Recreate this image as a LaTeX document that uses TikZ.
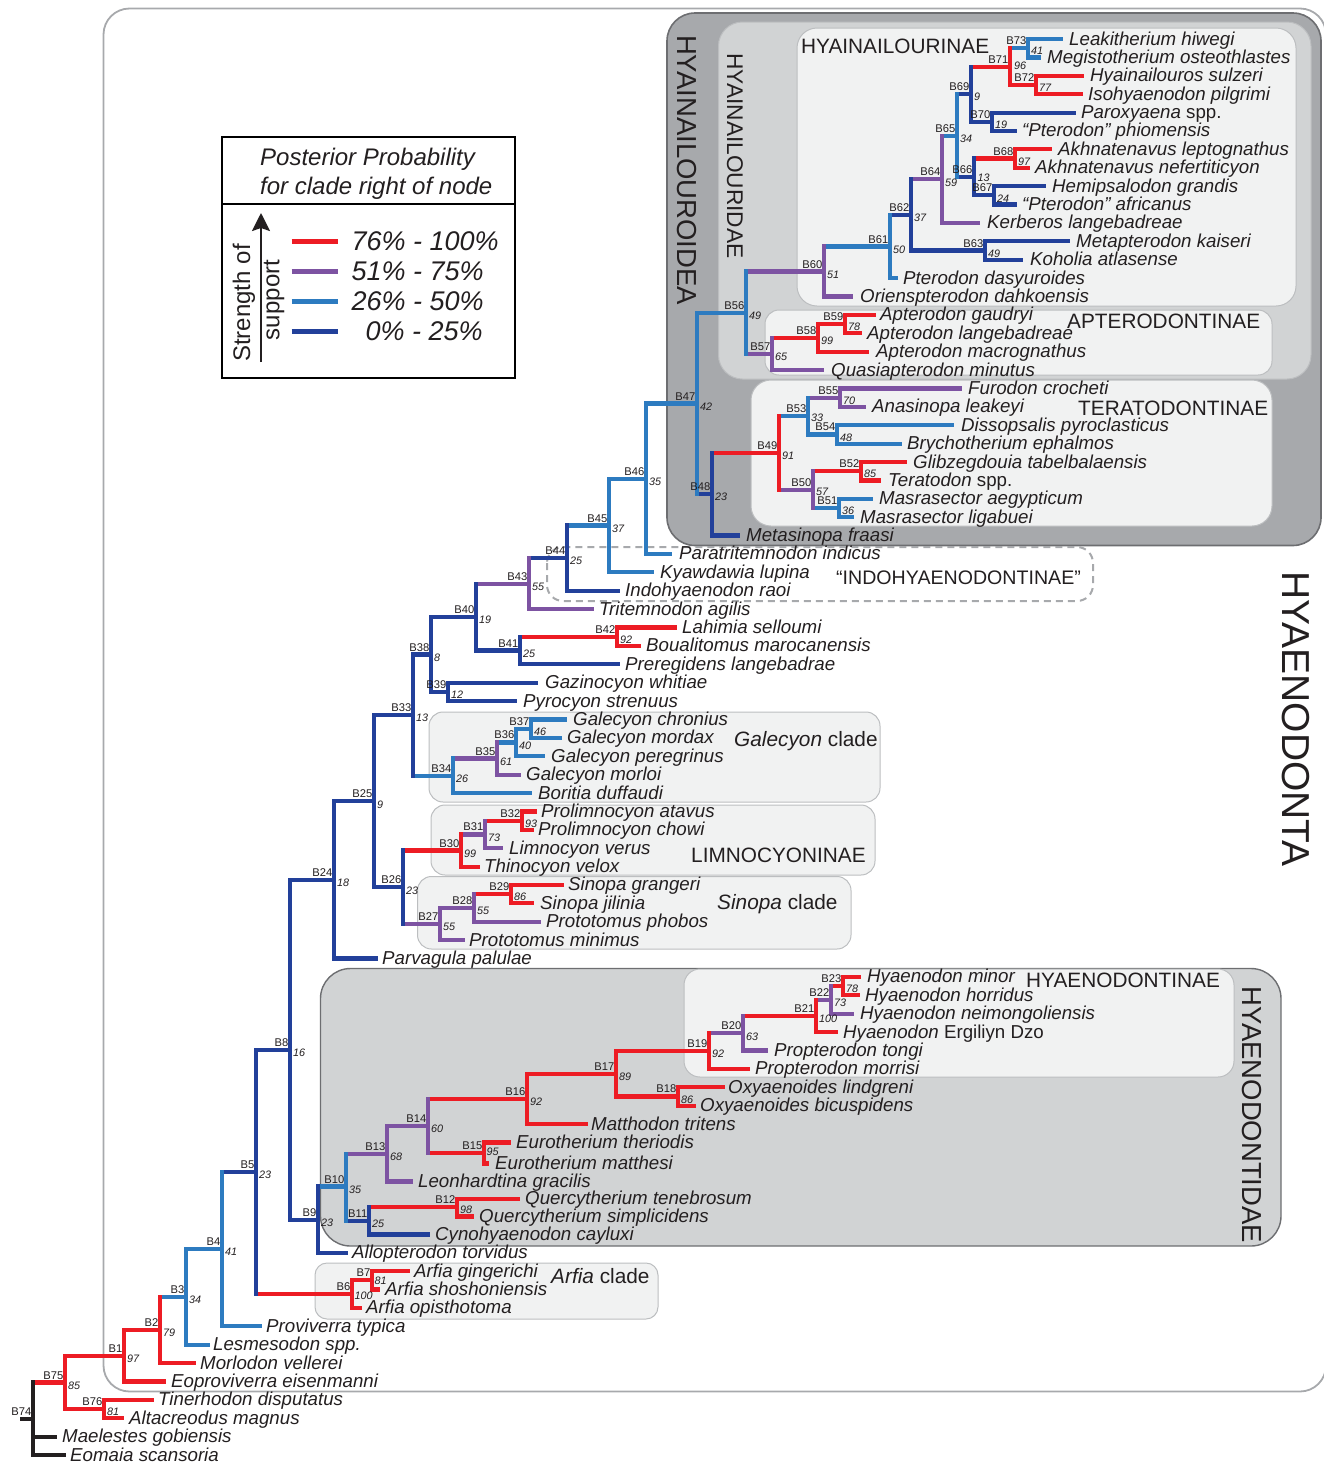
\documentclass[tikz,border=0pt]{standalone}
\usepackage{fontspec}
\setmainfont{Liberation Sans}
\usetikzlibrary{arrows.meta}
\definecolor{cR}{HTML}{ED1C24}
\definecolor{cP}{HTML}{7D53A2}
\definecolor{cL}{HTML}{2D7BC0}
\definecolor{cD}{HTML}{22409A}
\definecolor{cK}{HTML}{231F20}
\definecolor{txt}{HTML}{231F20}
\definecolor{gDark}{HTML}{A7A9AC}
\definecolor{gMid}{HTML}{D1D3D4}
\definecolor{gLight}{HTML}{F1F2F2}
\definecolor{gEdge}{HTML}{BCBEC0}
\definecolor{gLine}{HTML}{6D6E71}
\newcommand\St[3]{\draw[br,#3] (#2 |- #1) -- (#1);}
\newcommand\Br[4]{\draw[br,#4,line cap=rect] (#1 |- #2) -- (#1 |- #3);}
\newcommand\Lf[7]{\coordinate (t#1) at (#2,#4); \draw[br,#6] (#5 |- t#1) -- (t#1); \node[lab] (n#1) at (#3,#4) {#7};}
\newcommand\Lb[2]{\node[bl] (b#1) at ([shift={(-1.5,-3.5)}]#1) {#1}; \node[sv] (s#1) at ([shift={(3,3)}]#1) {#2};}
\newcommand\Lc[4]{\node[bl] (b#1) at ([shift={(-1.5,-3.5)}]#1) {#1}; \node[sv] (s#1) at ([shift={(#3,#4)}]#1) {#2};}
\begin{document}
\begin{tikzpicture}[x=1pt,y=-1pt,
  br/.style={line width=4.2pt},
  lab/.style={anchor=base west, inner sep=0pt, yshift=-6pt, text=txt, font=\fontsize{18.7}{20}\selectfont\itshape},
  bl/.style={anchor=base east, inner sep=0pt, text=txt, font=\fontsize{11.2}{12}\selectfont},
  sv/.style={anchor=west, inner sep=0pt, text=txt, font=\fontsize{10.8}{12}\selectfont\itshape},
  grp/.style={anchor=base west, inner sep=0pt, text=txt, font=\fontsize{20.8}{22}\selectfont},
  vgrp/.style={inner sep=0pt, rotate=-90, text=txt},
  lbox/.style={draw=gEdge, fill=gLight, line width=1pt},
  legtxt/.style={anchor=west, inner sep=0pt, text=txt, font=\fontsize{27}{29}\selectfont\itshape}]
\useasboundingbox (0,0) rectangle (1324,1465);
\clip (0,0) rectangle (1324,1465);
% ---------- boxes ----------
\draw[draw=gDark, line width=1.8pt, rounded corners=26pt] (103.5,8.5) rectangle (1326,1391.5);
\draw[draw=gLine, fill=gDark, line width=1.6pt, rounded corners=28pt] (667,13) rectangle (1321,545.5);
\draw[draw=gEdge, fill=gMid, line width=1pt, rounded corners=24pt] (718.5,22) rectangle (1311,379);
\draw[lbox, rounded corners=20pt] (797,28) rectangle (1296,306);
\draw[lbox, rounded corners=14pt] (765,310) rectangle (1272,375);
\draw[lbox, rounded corners=20pt] (751,380) rectangle (1272,526);
\draw[draw=gDark, line width=2pt, dash pattern=on 7pt off 5pt, rounded corners=16pt] (547,547) rectangle (1093,601);
\draw[lbox, rounded corners=14pt] (429,712) rectangle (880,802);
\draw[lbox, rounded corners=14pt] (431,805) rectangle (875,875);
\draw[lbox, rounded corners=14pt] (417.5,876.5) rectangle (851,949);
\draw[draw=gLine, fill=gMid, line width=1.4pt, rounded corners=30pt] (320.5,968.5) rectangle (1281,1246);
\draw[lbox, rounded corners=16pt] (684,969) rectangle (1234,1077);
\draw[lbox, rounded corners=12pt] (315,1263) rectangle (658,1319);
% ---------- group labels ----------
\node[grp] (gHyn) at (801,53.3) {HYAINAILOURINAE};
\node[grp] (gApt) at (1067,328.3) {APTERODONTINAE};
\node[grp] (gTer) at (1078,415.3) {TERATODONTINAE};
\node[grp, font=\fontsize{19.6}{21}\selectfont] (gInd) at (836,584) {“INDOHYAENODONTINAE”};
\node[grp] (gGal) at (734,746.3) {\textit{Galecyon} clade};
\node[grp] (gLim) at (691,862.3) {LIMNOCYONINAE};
\node[grp] (gSin) at (717,909) {\textit{Sinopa} clade};
\node[grp] (gHyd) at (1026,987.3) {HYAENODONTINAE};
\node[grp] (gArf) at (551,1283.3) {\textit{Arfia} clade};
\node[vgrp, font=\fontsize{27.5}{29}\selectfont] (vA) at (686.5,170) {HYAINAILOUROIDEA};
\node[vgrp, font=\fontsize{22.7}{24}\selectfont] (vB) at (735,156) {HYAINAILOURIDAE};
\node[vgrp, font=\fontsize{39}{41}\selectfont] (vC) at (1296,719) {HYAENODONTA};
\node[vgrp, font=\fontsize{27.5}{29}\selectfont] (vD) at (1252,1115) {HYAENODONTIDAE};
% ---------- legend ----------
\draw[line width=2pt, fill=white] (222,137) rectangle (515,378);
\coordinate (dvL) at (222,203.5); \coordinate (dvR) at (515,203.5);
\draw[line width=2pt] (dvL) -- (dvR);
\node[anchor=base west, inner sep=0pt, text=txt, font=\fontsize{24}{26}\selectfont\itshape] (lt1) at (260,165.5) {Posterior Probability};
\node[anchor=base west, inner sep=0pt, text=txt, font=\fontsize{24}{26}\selectfont\itshape] (lt2) at (260,194.5) {for clade right of node};
\coordinate (arA) at (261,362); \coordinate (arB) at (261,213);
\draw[line width=2.4pt, txt, -{Stealth[length=18pt,width=18pt,inset=3pt]}] (arA) -- (arB);
\node[inner sep=0pt, rotate=90, text=txt, font=\fontsize{24}{26}\selectfont] (ls1) at (244,303) {Strength of};
\node[inner sep=0pt, rotate=90, text=txt, font=\fontsize{24}{26}\selectfont] (ls2) at (274,300) {support};
\coordinate (k1a) at (291.7,241.5); \coordinate (k1b) at (338,241.5);
\coordinate (k2a) at (291.7,271.5); \coordinate (k2b) at (338,271.5);
\coordinate (k3a) at (291.7,301.5); \coordinate (k3b) at (338,301.5);
\coordinate (k4a) at (291.7,331.5); \coordinate (k4b) at (338,331.5);
\draw[line width=4.5pt, cR] (k1a) -- (k1b);
\draw[line width=4.5pt, cP] (k2a) -- (k2b);
\draw[line width=4.5pt, cL] (k3a) -- (k3b);
\draw[line width=4.5pt, cD] (k4a) -- (k4b);
\node[legtxt] (kt1) at (351.5,241.5) {76\% - 100\%};
\node[legtxt] (kt2) at (351.5,271.5) {51\% - 75\%};
\node[legtxt] (kt3) at (351.5,301.5) {26\% - 50\%};
\node[legtxt] (kt4) at (365.5,331.5) {0\% - 25\%};
% ---------- internal nodes ----------
\coordinate (B74) at (33,1418.8);
\coordinate (B75) at (65,1382.5);
\coordinate (B76) at (104,1409.1);
\coordinate (B1) at (124,1355.8);
\coordinate (B2) at (160,1330.1);
\coordinate (B3) at (186,1297.0);
\coordinate (B4) at (222,1249.2);
\coordinate (B5) at (256,1172.0);
\coordinate (B6) at (352,1294.1);
\coordinate (B7) at (372,1280.3);
\coordinate (B8) at (290,1049.8);
\coordinate (B9) at (318,1219.6);
\coordinate (B10) at (346,1186.5);
\coordinate (B11) at (369,1220.6);
\coordinate (B12) at (457,1206.8);
\coordinate (B13) at (387,1153.7);
\coordinate (B14) at (428,1126.0);
\coordinate (B15) at (484,1153.0);
\coordinate (B16) at (527,1098.9);
\coordinate (B17) at (616,1073.8);
\coordinate (B18) at (678,1096.4);
\coordinate (B19) at (709,1051.1);
\coordinate (B20) at (743,1033.3);
\coordinate (B21) at (816,1016.0);
\coordinate (B22) at (831,999.9);
\coordinate (B23) at (843,986.1);
\coordinate (B24) at (334,879.9);
\coordinate (B25) at (374,801.3);
\coordinate (B26) at (403,887.3);
\coordinate (B27) at (440,924.0);
\coordinate (B28) at (474,907.9);
\coordinate (B29) at (511,894.1);
\coordinate (B30) at (461,850.5);
\coordinate (B31) at (485,834.4);
\coordinate (B32) at (522,820.6);
\coordinate (B33) at (413,715.2);
\coordinate (B34) at (453,775.8);
\coordinate (B35) at (497,758.5);
\coordinate (B36) at (516,742.4);
\coordinate (B37) at (531,728.6);
\coordinate (B38) at (431,654.5);
\coordinate (B39) at (448,691.9);
\coordinate (B40) at (476,617.1);
\coordinate (B41) at (520,650.5);
\coordinate (B42) at (617,636.7);
\coordinate (B43) at (529,583.6);
\coordinate (B44) at (567,558.1);
\coordinate (B45) at (609,525.5);
\coordinate (B46) at (646,478.7);
\coordinate (B47) at (697,403.5);
\coordinate (B48) at (712,494.2);
\coordinate (B49) at (779,452.8);
\coordinate (B50) at (813,489.6);
\coordinate (B51) at (839,508.0);
\coordinate (B52) at (861,471.2);
\coordinate (B53) at (808,416.0);
\coordinate (B54) at (837,434.4);
\coordinate (B55) at (840,397.6);
\coordinate (B56) at (746,312.8);
\coordinate (B57) at (772,354.0);
\coordinate (B58) at (818,337.9);
\coordinate (B59) at (845,324.1);
\coordinate (B60) at (824,271.5);
\coordinate (B61) at (890,246.5);
\coordinate (B62) at (911,214.9);
\coordinate (B63) at (985,250.5);
\coordinate (B64) at (942,179.3);
\coordinate (B65) at (957,135.6);
\coordinate (B66) at (974,176.9);
\coordinate (B67) at (994,195.3);
\coordinate (B68) at (1015,158.5);
\coordinate (B69) at (971,94.2);
\coordinate (B70) at (992,121.8);
\coordinate (B71) at (1010,66.6);
\coordinate (B72) at (1036,85.0);
\coordinate (B73) at (1028,48.2);
\coordinate (root) at (20,1418.8);
% ---------- stems ----------
\draw[br,cK] (root) -- (B74);
\St{B75}{B74}{cR} \St{B76}{B75}{cR} \St{B1}{B75}{cR} \St{B2}{B1}{cR}
\St{B3}{B2}{cL} \St{B4}{B3}{cL} \St{B5}{B4}{cD} \St{B6}{B5}{cR}
\St{B7}{B6}{cR} \St{B8}{B5}{cD} \St{B9}{B8}{cD} \St{B10}{B9}{cL}
\St{B11}{B10}{cD} \St{B12}{B11}{cR} \St{B13}{B10}{cP} \St{B14}{B13}{cP}
\St{B15}{B14}{cR} \St{B16}{B14}{cR} \St{B17}{B16}{cR} \St{B18}{B17}{cR}
\St{B19}{B17}{cR} \St{B20}{B19}{cP} \St{B21}{B20}{cR} \St{B22}{B21}{cP}
\St{B23}{B22}{cR} \St{B24}{B8}{cD} \St{B25}{B24}{cD} \St{B26}{B25}{cD}
\St{B27}{B26}{cP} \St{B28}{B27}{cP} \St{B29}{B28}{cR} \St{B30}{B26}{cR}
\St{B31}{B30}{cP} \St{B32}{B31}{cR} \St{B33}{B25}{cD} \St{B34}{B33}{cL}
\St{B35}{B34}{cP} \St{B36}{B35}{cL} \St{B37}{B36}{cL} \St{B38}{B33}{cD}
\St{B39}{B38}{cD} \St{B40}{B38}{cD} \St{B41}{B40}{cD} \St{B42}{B41}{cR}
\St{B43}{B40}{cP} \St{B44}{B43}{cD} \St{B45}{B44}{cL} \St{B46}{B45}{cL}
\St{B47}{B46}{cL} \St{B48}{B47}{cD} \St{B49}{B48}{cR} \St{B50}{B49}{cP}
\St{B51}{B50}{cL} \St{B52}{B50}{cR} \St{B53}{B49}{cL} \St{B54}{B53}{cL}
\St{B55}{B53}{cP} \St{B56}{B47}{cL} \St{B57}{B56}{cP} \St{B58}{B57}{cR}
\St{B59}{B58}{cR} \St{B60}{B56}{cP} \St{B61}{B60}{cL} \St{B62}{B61}{cD}
\St{B63}{B62}{cD} \St{B64}{B62}{cP} \St{B65}{B64}{cL} \St{B66}{B65}{cD}
\St{B67}{B66}{cD} \St{B68}{B66}{cR} \St{B69}{B65}{cD} \St{B70}{B69}{cD}
\St{B71}{B69}{cR} \St{B72}{B71}{cR} \St{B73}{B71}{cL}
% ---------- leaves ----------
\Lf{1}{1063}{1069}{39.0}{B73}{cL}{Leakitherium hiwegi}
\Lf{2}{1041}{1047}{57.4}{B73}{cL}{Megistotherium osteothlastes}
\Lf{3}{1084}{1090}{75.8}{B72}{cR}{Hyainailouros sulzeri}
\Lf{4}{1083}{1088}{94.2}{B72}{cR}{Isohyaenodon pilgrimi}
\Lf{5}{1076}{1081}{112.6}{B70}{cD}{Paroxyaena {\upshape spp.}}
\Lf{6}{1017}{1022}{130.9}{B70}{cD}{“Pterodon” phiomensis}
\Lf{7}{1052}{1058}{149.3}{B68}{cR}{Akhnatenavus leptognathus}
\Lf{8}{1030}{1035}{167.7}{B68}{cR}{Akhnatenavus nefertiticyon}
\Lf{9}{1046}{1052}{186.1}{B67}{cD}{Hemipsalodon grandis}
\Lf{10}{1017}{1022}{204.5}{B67}{cD}{“Pterodon” africanus}
\Lf{11}{980}{987}{222.9}{B64}{cP}{Kerberos langebadreae}
\Lf{12}{1070}{1076}{241.3}{B63}{cD}{Metapterodon kaiseri}
\Lf{13}{1023}{1030}{259.7}{B63}{cD}{Koholia atlasense}
\Lf{14}{898}{903}{278.1}{B61}{cL}{Pterodon dasyuroides}
\Lf{15}{853}{860}{296.5}{B60}{cP}{Orienspterodon dahkoensis}
\Lf{16}{876}{880}{314.9}{B59}{cR}{Apterodon gaudryi}
\Lf{17}{862}{867}{333.2}{B59}{cR}{Apterodon langebadreae}
\Lf{18}{869}{876}{351.6}{B58}{cR}{Apterodon macrognathus}
\Lf{19}{824}{831}{370.0}{B57}{cP}{Quasiapterodon minutus}
\Lf{20}{962}{968}{388.4}{B55}{cP}{Furodon crocheti}
\Lf{21}{866}{872}{406.8}{B55}{cP}{Anasinopa leakeyi}
\Lf{22}{954}{961}{425.2}{B54}{cL}{Dissopsalis pyroclasticus}
\Lf{23}{902}{907}{443.6}{B54}{cL}{Brychotherium ephalmos}
\Lf{24}{907}{913}{462.0}{B52}{cR}{Glibzegdouia tabelbalaensis}
\Lf{25}{881}{888}{480.4}{B52}{cR}{Teratodon {\upshape spp.}}
\Lf{26}{873}{879}{498.8}{B51}{cL}{Masrasector aegypticum}
\Lf{27}{854}{860}{517.1}{B51}{cL}{Masrasector ligabuei}
\Lf{28}{740}{746}{535.5}{B48}{cD}{Metasinopa fraasi}
\Lf{29}{672}{679}{553.9}{B46}{cL}{Paratritemnodon indicus}
\Lf{30}{654}{660}{572.3}{B45}{cL}{Kyawdawia lupina}
\Lf{31}{620}{625}{590.7}{B44}{cD}{Indohyaenodon raoi}
\Lf{32}{594}{599}{609.1}{B43}{cP}{Tritemnodon agilis}
\Lf{33}{677}{682}{627.5}{B42}{cR}{Lahimia selloumi}
\Lf{34}{641}{646}{645.9}{B42}{cR}{Boualitomus marocanensis}
\Lf{35}{620}{625}{664.3}{B41}{cD}{Preregidens langebadrae}
\Lf{36}{538}{545}{682.7}{B39}{cD}{Gazinocyon whitiae}
\Lf{37}{517}{523}{701.0}{B39}{cD}{Pyrocyon strenuus}
\Lf{38}{567}{573}{719.4}{B37}{cL}{Galecyon chronius}
\Lf{39}{562}{567}{737.8}{B37}{cL}{Galecyon mordax}
\Lf{40}{545}{551}{756.2}{B36}{cL}{Galecyon peregrinus}
\Lf{41}{521}{526}{774.6}{B35}{cP}{Galecyon morloi}
\Lf{42}{532}{538}{793.0}{B34}{cL}{Boritia duffaudi}
\Lf{43}{537}{541}{811.4}{B32}{cR}{Prolimnocyon atavus}
\Lf{44}{534}{538}{829.8}{B32}{cR}{Prolimnocyon chowi}
\Lf{45}{503}{509}{848.2}{B31}{cP}{Limnocyon verus}
\Lf{46}{480}{484}{866.6}{B30}{cR}{Thinocyon velox}
\Lf{47}{564}{568}{884.9}{B29}{cR}{Sinopa grangeri}
\Lf{48}{534}{540}{903.3}{B29}{cR}{Sinopa jilinia}
\Lf{49}{541}{546}{921.7}{B28}{cP}{Prototomus phobos}
\Lf{50}{465}{469}{940.1}{B27}{cP}{Prototomus minimus}
\Lf{51}{378}{382}{958.5}{B24}{cD}{Parvagula palulae}
\Lf{52}{861}{867}{976.9}{B23}{cR}{Hyaenodon minor}
\Lf{53}{860}{865}{995.3}{B23}{cR}{Hyaenodon horridus}
\Lf{54}{854}{860}{1013.7}{B22}{cP}{Hyaenodon neimongoliensis}
\Lf{55}{838}{843}{1032.1}{B21}{cR}{Hyaenodon {\upshape Ergiliyn Dzo}}
\Lf{56}{768}{774}{1050.5}{B20}{cP}{Propterodon tongi}
\Lf{57}{750}{755}{1068.8}{B19}{cR}{Propterodon morrisi}
\Lf{58}{725}{728}{1087.2}{B18}{cR}{Oxyaenoides lindgreni}
\Lf{59}{696}{700}{1105.6}{B18}{cR}{Oxyaenoides bicuspidens}
\Lf{60}{588}{591}{1124.0}{B16}{cR}{Matthodon tritens}
\Lf{61}{511}{516}{1142.4}{B15}{cR}{Eurotherium theriodis}
\Lf{62}{489}{495}{1163.5}{B15}{cR}{Eurotherium matthesi}
\Lf{63}{413}{418}{1181.5}{B13}{cP}{Leonhardtina gracilis}
\Lf{64}{520}{525}{1198.6}{B12}{cR}{Quercytherium tenebrosum}
\Lf{65}{474}{479}{1216.5}{B12}{cR}{Quercytherium simplicidens}
\Lf{66}{430}{435}{1234.4}{B11}{cD}{Cynohyaenodon cayluxi}
\Lf{67}{348}{352}{1252.7}{B9}{cD}{Allopterodon torvidus}
\Lf{68}{410}{414}{1271.1}{B7}{cR}{Arfia gingerichi}
\Lf{69}{380}{385}{1289.5}{B7}{cR}{Arfia shoshoniensis}
\Lf{70}{362}{366}{1307.9}{B6}{cR}{Arfia opisthotoma}
\Lf{71}{262}{266}{1326.3}{B4}{cL}{Proviverra typica}
\Lf{72}{210}{213}{1344.7}{B3}{cL}{Lesmesodon spp.}
\Lf{73}{196}{200}{1363.1}{B2}{cR}{Morlodon vellerei}
\Lf{74}{166}{171}{1381.5}{B1}{cR}{Eoproviverra eisenmanni}
\Lf{75}{154}{158}{1399.9}{B76}{cR}{Tinerhodon disputatus}
\Lf{76}{124}{129}{1418.3}{B76}{cR}{Altacreodus magnus}
\Lf{77}{57}{62}{1436.6}{B74}{cK}{Maelestes gobiensis}
\Lf{78}{66}{70}{1455.0}{B74}{cK}{Eomaia scansoria}
% ---------- bars ----------
\Br{B74}{B75}{t78}{cK} \Br{B75}{B1}{B76}{cR} \Br{B76}{t75}{t76}{cR}
\Br{B1}{B2}{t74}{cR} \Br{B2}{B3}{t73}{cR} \Br{B3}{B4}{t72}{cL}
\Br{B4}{B5}{t71}{cL} \Br{B5}{B8}{B6}{cD} \Br{B6}{B7}{t70}{cR}
\Br{B7}{t68}{t69}{cR} \Br{B8}{B24}{B9}{cD} \Br{B9}{B10}{t67}{cD}
\Br{B10}{B13}{B11}{cL} \Br{B11}{B12}{t66}{cD} \Br{B12}{t64}{t65}{cR}
\Br{B13}{B14}{t63}{cP} \Br{B14}{B16}{B15}{cP} \Br{B15}{t61}{t62}{cR}
\Br{B16}{B17}{t60}{cR} \Br{B17}{B19}{B18}{cR} \Br{B18}{t58}{t59}{cR}
\Br{B19}{B20}{t57}{cR} \Br{B20}{B21}{t56}{cP} \Br{B21}{B22}{t55}{cR}
\Br{B22}{B23}{t54}{cP} \Br{B23}{t52}{t53}{cR} \Br{B24}{B25}{t51}{cD}
\Br{B25}{B33}{B26}{cD} \Br{B26}{B30}{B27}{cD} \Br{B27}{B28}{t50}{cP}
\Br{B28}{B29}{t49}{cP} \Br{B29}{t47}{t48}{cR} \Br{B30}{B31}{t46}{cR}
\Br{B31}{B32}{t45}{cP} \Br{B32}{t43}{t44}{cR} \Br{B33}{B38}{B34}{cD}
\Br{B34}{B35}{t42}{cL} \Br{B35}{B36}{t41}{cP} \Br{B36}{B37}{t40}{cL}
\Br{B37}{t38}{t39}{cL} \Br{B38}{B40}{B39}{cD} \Br{B39}{t36}{t37}{cD}
\Br{B40}{B43}{B41}{cD} \Br{B41}{B42}{t35}{cD} \Br{B42}{t33}{t34}{cR}
\Br{B43}{B44}{t32}{cP} \Br{B44}{B45}{t31}{cD} \Br{B45}{B46}{t30}{cL}
\Br{B46}{B47}{t29}{cL} \Br{B47}{B56}{B48}{cL} \Br{B48}{B49}{t28}{cD}
\Br{B49}{B53}{B50}{cR} \Br{B50}{B52}{B51}{cP} \Br{B51}{t26}{t27}{cL}
\Br{B52}{t24}{t25}{cR} \Br{B53}{B55}{B54}{cL} \Br{B54}{t22}{t23}{cL}
\Br{B55}{t20}{t21}{cP} \Br{B56}{B60}{B57}{cL} \Br{B57}{B58}{t19}{cP}
\Br{B58}{B59}{t18}{cR} \Br{B59}{t16}{t17}{cR} \Br{B60}{B61}{t15}{cP}
\Br{B61}{B62}{t14}{cL} \Br{B62}{B64}{B63}{cD} \Br{B63}{t12}{t13}{cD}
\Br{B64}{B65}{t11}{cP} \Br{B65}{B69}{B66}{cL} \Br{B66}{B68}{B67}{cD}
\Br{B67}{t9}{t10}{cD} \Br{B68}{t7}{t8}{cR} \Br{B69}{B71}{B70}{cD}
\Br{B70}{t5}{t6}{cD} \Br{B71}{B73}{B72}{cR} \Br{B72}{t3}{t4}{cR}
\Br{B73}{t1}{t2}{cL}
% ---------- node labels ----------
\node[bl] (bB74) at ([shift={(-1.5,-3.5)}]B74) {B74};
\Lb{B75}{85} \Lb{B76}{81} \Lb{B1}{97} \Lb{B2}{79} \Lb{B3}{34} \Lb{B4}{41}
\Lb{B5}{23} \Lc{B6}{100}{2.5}{2} \Lc{B7}{81}{2.5}{0} \Lb{B8}{16} \Lb{B9}{23} \Lb{B10}{35}
\Lb{B11}{25} \Lb{B12}{98} \Lb{B13}{68} \Lb{B14}{60} \Lc{B15}{95}{2.5}{-1.2} \Lb{B16}{92}
\Lb{B17}{89} \Lb{B18}{86} \Lb{B19}{92} \Lb{B20}{63} \Lb{B21}{100} \Lb{B22}{73}
\Lb{B23}{78} \Lb{B24}{18} \Lb{B25}{9} \Lb{B26}{23} \Lb{B27}{55} \Lb{B28}{55}
\Lb{B29}{86} \Lb{B30}{99} \Lb{B31}{73} \Lb{B32}{93} \Lb{B33}{13} \Lb{B34}{26}
\Lb{B35}{61} \Lb{B36}{40} \Lb{B37}{46} \Lb{B38}{8} \Lb{B39}{12} \Lb{B40}{19}
\Lb{B41}{25} \Lb{B42}{92} \Lb{B43}{55} \Lb{B44}{25} \Lb{B45}{37} \Lb{B46}{35}
\Lb{B47}{42} \Lb{B48}{23} \Lb{B49}{91} \Lc{B50}{57}{3}{2} \Lb{B51}{36} \Lb{B52}{85}
\Lc{B53}{33}{3}{1.5} \Lb{B54}{48} \Lb{B55}{70} \Lb{B56}{49} \Lb{B57}{65} \Lb{B58}{99}
\Lb{B59}{78} \Lb{B60}{51} \Lb{B61}{50} \Lb{B62}{37} \Lb{B63}{49} \Lb{B64}{59}
\Lb{B65}{34} \Lc{B66}{13}{3.5}{1} \Lb{B67}{24} \Lb{B68}{97} \Lb{B69}{9} \Lb{B70}{19}
\Lc{B71}{96}{4}{-0.5} \Lb{B72}{77} \Lb{B73}{41}
\end{tikzpicture}
\end{document}
